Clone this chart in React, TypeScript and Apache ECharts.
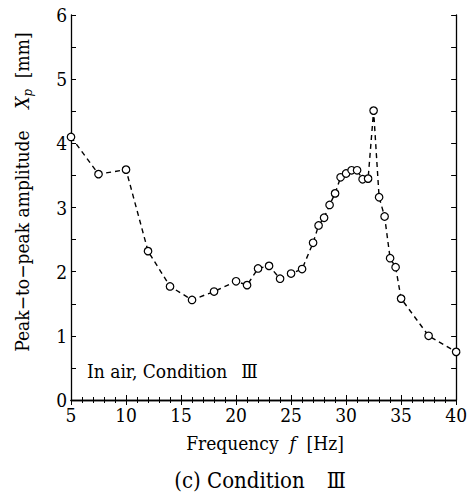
import React, { useEffect, useRef } from "react";
import * as echarts from "echarts";

const freqHz = [5, 7.5, 10, 12, 14, 16, 18, 20, 21, 22, 23, 24, 25, 26, 27, 27.5, 28, 28.5, 29, 29.5, 30, 30.5, 31, 31.5, 32, 32.5, 33, 33.5, 34, 34.5, 35, 37.5, 40];
const amplitudeMm = [4.1, 3.52, 3.59, 2.32, 1.77, 1.56, 1.69, 1.85, 1.79, 2.05, 2.09, 1.89, 1.97, 2.04, 2.45, 2.72, 2.84, 3.04, 3.22, 3.47, 3.53, 3.58, 3.58, 3.44, 3.45, 4.51, 3.16, 2.86, 2.21, 2.07, 1.58, 1.0, 0.75];
const xTicks = [5, 10, 15, 20, 25, 30, 35, 40];
const yTicks = [0, 1, 2, 3, 4, 5, 6];

const SERIF = "DejaVu Serif Condensed";

export default function App() {
  const ref = useRef<HTMLDivElement>(null);
  useEffect(() => {
    if (!ref.current) return;
    const chart = echarts.init(ref.current, null, { renderer: "svg" });
    const data = freqHz.map((f, i) => [f, amplitudeMm[i]]);
    const axisLine = { show: true, lineStyle: { color: "#000", width: 1.3 } };
    const xBase = {
      type: "value" as const,
      min: xTicks[0],
      max: xTicks[xTicks.length - 1],
      interval: 5,
      axisLine,
      splitLine: { show: false },
      axisTick: { show: true, inside: true, length: 5, lineStyle: { color: "#000", width: 1 } },
      minorTick: { show: true, splitNumber: 5, length: 3, lineStyle: { color: "#000", width: 1 } },
    };
    const yBase = {
      type: "value" as const,
      min: yTicks[0],
      max: yTicks[yTicks.length - 1],
      interval: 1,
      axisLine,
      splitLine: { show: false },
      axisTick: { show: true, inside: true, length: 5, lineStyle: { color: "#000", width: 1 } },
      minorTick: { show: true, splitNumber: 2, length: 5, lineStyle: { color: "#000", width: 1 } },
    };
    chart.setOption({
      animation: false,
      backgroundColor: "#fff",
      grid: { left: 71, right: 13, top: 15, bottom: 95, containLabel: false },
      xAxis: [
        {
          ...xBase,
          position: "bottom",
          axisLabel: { show: true, color: "#000", fontFamily: SERIF, fontSize: 19, margin: 5 },
        },
        { ...xBase, position: "top", axisLabel: { show: false } },
      ],
      yAxis: [
        {
          ...yBase,
          position: "left",
          axisLabel: { show: true, color: "#000", fontFamily: SERIF, fontSize: 19, margin: 4 },
        },
        { ...yBase, position: "right", axisLabel: { show: false } },
      ],
      series: [
        {
          type: "line",
          data,
          xAxisIndex: 0,
          yAxisIndex: 0,
          symbol: "circle",
          symbolSize: 7.5,
          itemStyle: { color: "#fff", borderColor: "#000", borderWidth: 1.2 },
          lineStyle: { color: "#000", width: 1.4, type: [5, 4] },
          z: 3,
        },
      ],
      graphic: [
        {
          type: "text",
          x: 87,
          y: 371,
          style: {
            text: "In air, Condition\u2002 \u2162",
            fontFamily: SERIF,
            fontSize: 19,
            fill: "#000",
            align: "left",
            verticalAlign: "middle",
          },
        },
        {
          type: "text",
          x: 265,
          y: 443,
          style: {
            text: "{n|Frequency  }{i|f}{n|  [Hz]}",
            align: "center",
            verticalAlign: "middle",
            rich: {
              n: { fontFamily: SERIF, fontSize: 19, fill: "#000", lineHeight: 24 },
              i: { fontFamily: SERIF, fontSize: 19, fontStyle: "italic", fill: "#000", lineHeight: 24 },
            },
          },
        },
        {
          type: "text",
          x: 260,
          y: 480,
          style: {
            text: "(c) Condition\u3000\u2162",
            fontFamily: SERIF,
            fontSize: 22,
            fill: "#000",
            align: "center",
            verticalAlign: "middle",
          },
        },
        {
          type: "text",
          x: 22,
          y: 192,
          rotation: Math.PI / 2,
          style: {
            text: "{n|Peak\u2212to\u2212peak amplitude    }{i|X}{s|p}{n|  [mm]}",
            align: "center",
            verticalAlign: "middle",
            rich: {
              n: { fontFamily: SERIF, fontSize: 19, fill: "#000", lineHeight: 24, verticalAlign: "middle" },
              i: { fontFamily: SERIF, fontSize: 19, fontStyle: "italic", fill: "#000", lineHeight: 24, verticalAlign: "middle" },
              s: { fontFamily: SERIF, fontSize: 13, fontStyle: "italic", fill: "#000", lineHeight: 24, verticalAlign: "bottom", padding: [10, 0, 0, 0] },
            },
          },
        },
      ],
    });
    return () => chart.dispose();
  }, []);
  return <div ref={ref} style={{ width: 470, height: 495, position: "absolute", left: 0, top: 0 }} />;
}
